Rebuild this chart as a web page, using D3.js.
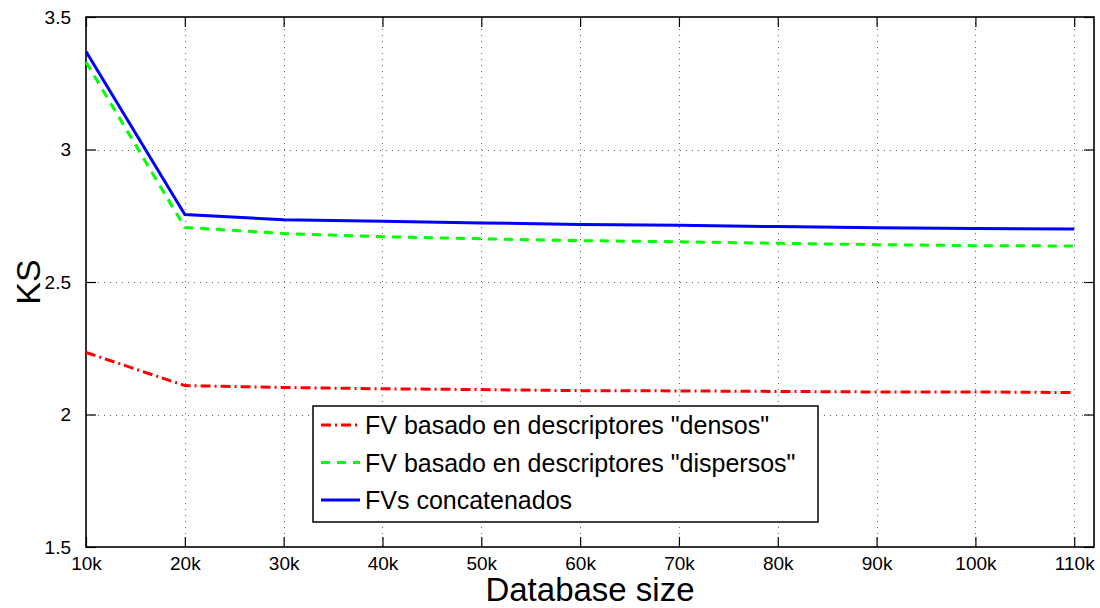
<!DOCTYPE html>
<html>
<head>
<meta charset="utf-8">
<script src="https://cdn.jsdelivr.net/npm/d3@7"></script>
<style>
  html, body { margin: 0; padding: 0; background: #fff; }
  text { font-family: "Liberation Sans", Arial, sans-serif; }
</style>
</head>
<body>
<script>
let w = 1100;
let h = 608;

// data
let sizes = [10000, 20000, 30000, 40000, 50000, 60000, 70000, 80000, 90000, 100000, 110000];
let densos = [2.234, 2.109, 2.102, 2.097, 2.094, 2.090, 2.089, 2.087, 2.085, 2.085, 2.083];
let dispersos = [3.330, 2.706, 2.683, 2.671, 2.663, 2.656, 2.652, 2.646, 2.641, 2.637, 2.636];
let concatenados = [3.370, 2.755, 2.735, 2.729, 2.723, 2.717, 2.714, 2.709, 2.705, 2.702, 2.700];
let xTickLabels = ["10k", "20k", "30k", "40k", "50k", "60k", "70k", "80k", "90k", "100k", "110k"];
let yTicks = [1.5, 2, 2.5, 3, 3.5];
let seriesNames = [
  'FV basado en descriptores "densos"',
  'FV basado en descriptores "dispersos"',
  "FVs concatenados",
];

let series = [
  { name: seriesNames[0], values: densos, color: "#ff0000", dash: "10,4,2,4" },
  { name: seriesNames[1], values: dispersos, color: "#00ff00", dash: "9,7" },
  { name: seriesNames[2], values: concatenados, color: "#0000ff", dash: null },
];

let m = { left: 86, right: 1094, top: 17, bottom: 547 };

let svg = d3.select("body").append("svg").attr("width", w).attr("height", h);

let x = d3.scaleLinear().domain([10000, 112000]).range([m.left, m.right]);
let y = d3.scaleLinear().domain([1.5, 3.5]).range([m.bottom, m.top]);

// grid
let grid = svg.append("g").attr("stroke", "#666").attr("stroke-width", 1).attr("stroke-dasharray", "1,5");
grid.selectAll("line.gx")
  .data(sizes.slice(1))
  .enter()
  .append("line")
  .attr("x1", d => Math.round(x(d)) + 0.5)
  .attr("x2", d => Math.round(x(d)) + 0.5)
  .attr("y1", m.top)
  .attr("y2", m.bottom);
grid.selectAll("line.gy")
  .data(yTicks.slice(1, -1))
  .enter()
  .append("line")
  .attr("x1", m.left)
  .attr("x2", m.right)
  .attr("y1", d => Math.round(y(d)) + 0.5)
  .attr("y2", d => Math.round(y(d)) + 0.5);

// axes, ticks inward on all four sides
let fmtX = (d, i) => xTickLabels[i];
let bottomAxis = d3.axisBottom(x).tickValues(sizes).tickFormat(fmtX).tickSizeInner(-10).tickSizeOuter(0).tickPadding(10);
let topAxis = d3.axisTop(x).tickValues(sizes).tickFormat("").tickSizeInner(-10).tickSizeOuter(0);
let leftAxis = d3.axisLeft(y).tickValues(yTicks).tickFormat(d3.format("")).tickSizeInner(-10).tickSizeOuter(0).tickPadding(15);
let rightAxis = d3.axisRight(y).tickValues(yTicks).tickFormat("").tickSizeInner(-10).tickSizeOuter(0);

function style(g) {
  g.select(".domain").remove();
  g.selectAll(".tick line").attr("stroke", "#000").attr("stroke-width", 1.2);
  g.selectAll(".tick text").attr("fill", "#000").attr("font-size", 19).attr("font-family", '"Liberation Sans", Arial, sans-serif');
}

svg.append("g").attr("transform", `translate(0,${m.bottom})`).call(bottomAxis).call(style);
svg.append("g").attr("transform", `translate(0,${m.top})`).call(topAxis).call(style);
svg.append("g").attr("transform", `translate(${m.left},0)`).call(leftAxis).call(style);
svg.append("g").attr("transform", `translate(${m.right},0)`).call(rightAxis).call(style);

svg.append("rect")
  .attr("x", m.left).attr("y", m.top)
  .attr("width", m.right - m.left).attr("height", m.bottom - m.top)
  .attr("fill", "none").attr("stroke", "#000").attr("stroke-width", 1.6);

// lines
let line = d3.line().x((d, i) => x(sizes[i])).y(d => y(d));
svg.selectAll("path.series")
  .data(series)
  .enter()
  .append("path")
  .attr("class", "series")
  .attr("d", d => line(d.values))
  .attr("fill", "none")
  .attr("stroke", d => d.color)
  .attr("stroke-width", 3)
  .attr("stroke-dasharray", d => d.dash);

// axis labels
svg.append("text")
  .text("Database size")
  .attr("x", (m.left + m.right) / 2)
  .attr("y", 601)
  .attr("text-anchor", "middle")
  .attr("font-size", 33);

svg.append("text")
  .text("KS")
  .attr("transform", `translate(40,${(m.top + m.bottom) / 2}) rotate(-90)`)
  .attr("text-anchor", "middle")
  .attr("font-size", 34);

// legend
let lg = svg.append("g").attr("transform", "translate(313,406)");
lg.append("rect")
  .attr("width", 505).attr("height", 116)
  .attr("fill", "#fff").attr("stroke", "#000").attr("stroke-width", 1.5);
let rows = lg.selectAll("g.row")
  .data(series)
  .enter()
  .append("g")
  .attr("transform", (d, i) => `translate(0,${19 + i * 37.5})`);
rows.append("line")
  .attr("x1", 8).attr("x2", 47)
  .attr("stroke", d => d.color)
  .attr("stroke-width", 3)
  .attr("stroke-dasharray", d => d.dash);
rows.append("text")
  .text(d => d.name)
  .attr("x", 52)
  .attr("dy", "0.36em")
  .attr("font-size", 25);
</script>
</body>
</html>
